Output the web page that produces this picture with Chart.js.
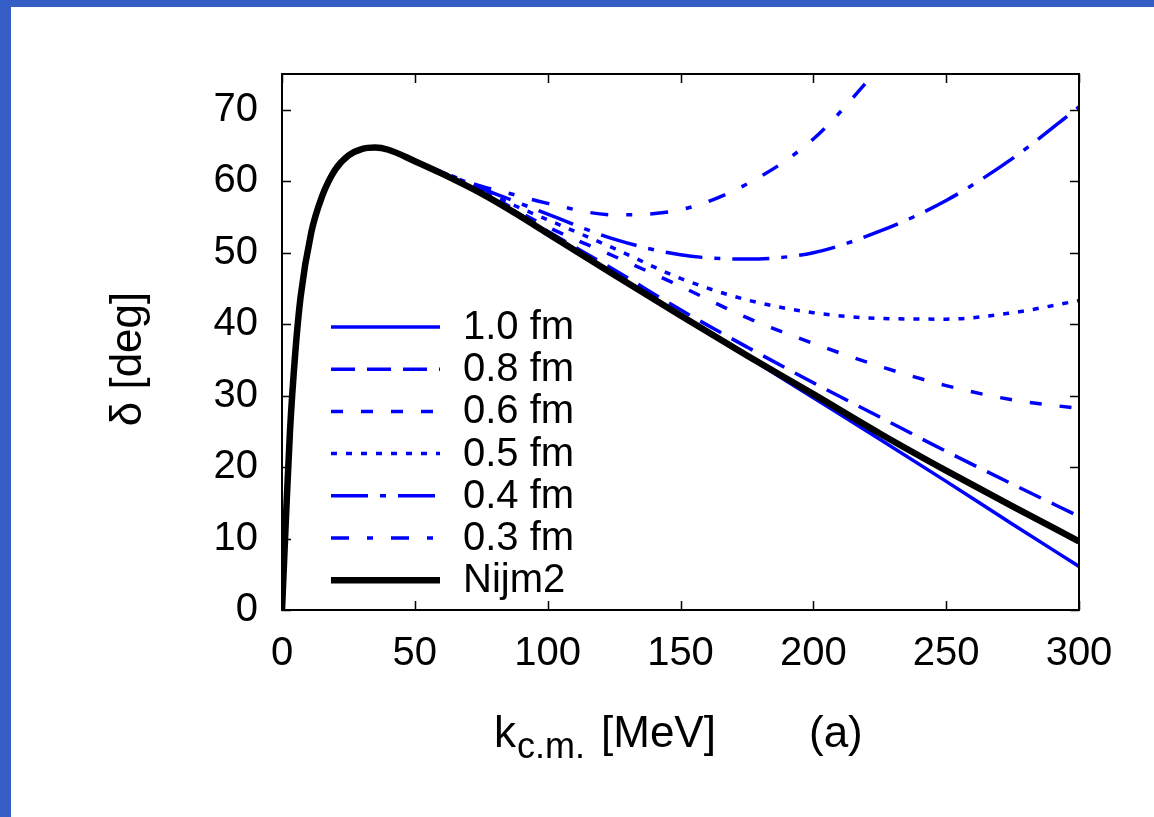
<!DOCTYPE html>
<html>
<head>
<meta charset="utf-8">
<script src="https://cdn.jsdelivr.net/npm/chart.js@4.4.1/dist/chart.umd.min.js"></script>
<style>
  html, body { margin: 0; padding: 0; background: #fff; }
  #frame { position: absolute; left: 0; top: 0; width: 1154px; height: 817px; box-sizing: border-box;
           border-left: 11px solid #345ec5; border-top: 7px solid #345ec5; }
  #chart { position: absolute; left: 0; top: 0; }
</style>
</head>
<body>
<div id="frame"></div>
<canvas id="chart" width="1154" height="817"></canvas>
<script>
// k_cm [MeV] sample points, shared by all curves
const kValues = [0, 1.5, 3, 5, 7, 11, 15, 20, 25, 30, 35, 40, 50, 60, 75, 87.5, 100, 125, 150, 175, 200, 225, 250, 275, 300];

// phase shift delta [deg]
const nijm2 = [0, 13, 25, 36, 43.8, 52.8, 57.8, 61.6, 63.6, 64.5, 64.7, 64.4, 62.8, 61.1, 58.3, 55.6, 52.7, 46.9, 41.2, 35.6, 30.2, 24.7, 19.5, 14.5, 9.6];
const r10 = [0, 13, 25, 36, 43.8, 52.8, 57.8, 61.6, 63.6, 64.5, 64.7, 64.4, 62.8, 61.1, 58.3, 55.6, 52.7, 46.9, 41.2, 35.5, 29.7, 23.9, 18.0, 12.0, 6.1];
const r08 = [0, 13, 25, 36, 43.8, 52.8, 57.8, 61.6, 63.6, 64.5, 64.7, 64.4, 62.8, 61.1, 58.4, 55.8, 53.0, 47.6, 42.0, 36.8, 31.8, 27.0, 22.2, 17.6, 13.1];
const r06 = [0, 13, 25, 36, 43.8, 52.8, 57.8, 61.6, 63.6, 64.5, 64.7, 64.4, 62.8, 61.2, 58.6, 56.1, 53.6, 49.5, 45.3, 40.9, 37.3, 34.1, 31.4, 29.4, 28.2];
const r05 = [0, 13, 25, 36, 43.8, 52.8, 57.8, 61.6, 63.6, 64.5, 64.7, 64.4, 62.8, 61.2, 58.8, 56.6, 54.6, 50.6, 46.4, 43.4, 41.6, 40.8, 40.7, 41.6, 43.3];
const r04 = [0, 13, 25, 36, 43.8, 52.8, 57.8, 61.6, 63.6, 64.5, 64.7, 64.4, 62.8, 61.3, 59.0, 57.2, 55.4, 51.9, 49.7, 49.1, 50.0, 53.0, 57.3, 63.2, 70.4];
const r03 = [0, 13, 25, 36, 43.8, 52.8, 57.8, 61.6, 63.6, 64.5, 64.7, 64.4, 62.8, 61.3, 59.3, 58.1, 56.9, 55.3, 56.0, 59.6, 65.9, 75.9, null, null, null];

const xTicks = [0, 50, 100, 150, 200, 250, 300];
const yTicks = [0, 10, 20, 30, 40, 50, 60, 70];

const FONT = "'Liberation Sans', Arial, sans-serif";

function pts(ys) {
  return kValues.map((k, i) => ({ x: k, y: ys[i] }));
}

function blue(label, ys, dash, order) {
  return {
    label: label,
    data: pts(ys),
    borderColor: "#0000ff",
    borderWidth: 3.5,
    borderDash: dash,
    borderCapStyle: "butt",
    order: order,
  };
}

const datasets = [
  blue("1.0 fm", r10, [], 1),
  blue("0.8 fm", r08, [24, 12], 2),
  blue("0.6 fm", r06, [12, 18], 3),
  blue("0.5 fm", r05, [6, 9], 4),
  blue("0.4 fm", r04, [37, 12, 6, 12], 5),
  blue("0.3 fm", r03, [18, 18, 6, 18], 6),
  {
    label: "Nijm2",
    data: pts(nijm2),
    borderColor: "#000000",
    borderWidth: 6.5,
    borderDash: [],
    order: 0,
  },
];

// frame, inward ticks, legend and axis titles
const decor = {
  id: "decor",
  afterDatasetsDraw(chart) {
    const ctx = chart.ctx;
    const a = chart.chartArea;
    const xs = chart.scales.x;
    const ys = chart.scales.y;
    ctx.save();
    ctx.strokeStyle = "#000";
    ctx.lineWidth = 2;
    ctx.setLineDash([]);
    ctx.strokeRect(a.left, a.top, a.right - a.left, a.bottom - a.top);

    ctx.lineWidth = 1.5;
    ctx.beginPath();
    xTicks.forEach((v) => {
      const px = Math.round(xs.getPixelForValue(v)) + 0.5;
      ctx.moveTo(px, a.bottom); ctx.lineTo(px, a.bottom - 9);
      ctx.moveTo(px, a.top); ctx.lineTo(px, a.top + 9);
    });
    yTicks.forEach((v) => {
      const py = Math.round(ys.getPixelForValue(v)) + 0.5;
      ctx.moveTo(a.left, py); ctx.lineTo(a.left + 9, py);
      ctx.moveTo(a.right, py); ctx.lineTo(a.right - 9, py);
    });
    ctx.stroke();

    // legend
    ctx.font = "40px " + FONT;
    ctx.textBaseline = "middle";
    ctx.textAlign = "left";
    chart.data.datasets.forEach((ds, i) => {
      const y = 327 + i * 42.2;
      ctx.strokeStyle = ds.borderColor;
      ctx.lineWidth = ds.borderWidth;
      ctx.lineCap = "butt";
      ctx.setLineDash(ds.borderDash);
      ctx.beginPath();
      ctx.moveTo(331, y);
      ctx.lineTo(440, y);
      ctx.stroke();
      ctx.setLineDash([]);
      ctx.fillStyle = "#000";
      ctx.fillText(ds.label, 463, y + 1);
    });

    // x title with subscript
    ctx.fillStyle = "#000";
    ctx.textBaseline = "alphabetic";
    ctx.font = "44px " + FONT;
    ctx.fillText("k", 494, 747);
    ctx.font = "36px " + FONT;
    ctx.fillText("c.m.", 517, 758);
    ctx.font = "44px " + FONT;
    ctx.fillText("[MeV]", 601, 747);
    ctx.fillText("(a)", 809, 747);

    // y title
    ctx.translate(129, 359);
    ctx.rotate(-Math.PI / 2);
    ctx.textAlign = "center";
    ctx.textBaseline = "middle";
    ctx.fillText("\u03b4 [deg]", 0, 0);
    ctx.restore();
  },
};

new Chart(document.getElementById("chart"), {
  type: "line",
  data: { datasets: datasets },
  options: {
    responsive: false,
    devicePixelRatio: 1,
    animation: false,
    layout: { padding: { left: 0, top: 74, right: 75, bottom: 0 } },
    elements: {
      point: { radius: 0, hitRadius: 0 },
      line: { cubicInterpolationMode: "monotone", fill: false },
    },
    plugins: { legend: { display: false }, tooltip: { enabled: false } },
    scales: {
      x: {
        type: "linear",
        min: 0,
        max: 300,
        grid: { display: false, drawTicks: false },
        border: { display: false },
        afterBuildTicks: (s) => { s.ticks = xTicks.map((v) => ({ value: v })); },
        afterFit: (s) => { s.height = 207; },
        ticks: { padding: 20, color: "#000", maxRotation: 0, font: { family: FONT, size: 40 } },
      },
      y: {
        min: 0,
        max: 75,
        grid: { display: false, drawTicks: false },
        border: { display: false },
        afterBuildTicks: (s) => { s.ticks = yTicks.map((v) => ({ value: v })); },
        afterFit: (s) => { s.width = 282; },
        ticks: { padding: 24, color: "#000", font: { family: FONT, size: 40 } },
      },
    },
  },
  plugins: [decor],
});
</script>
</body>
</html>
